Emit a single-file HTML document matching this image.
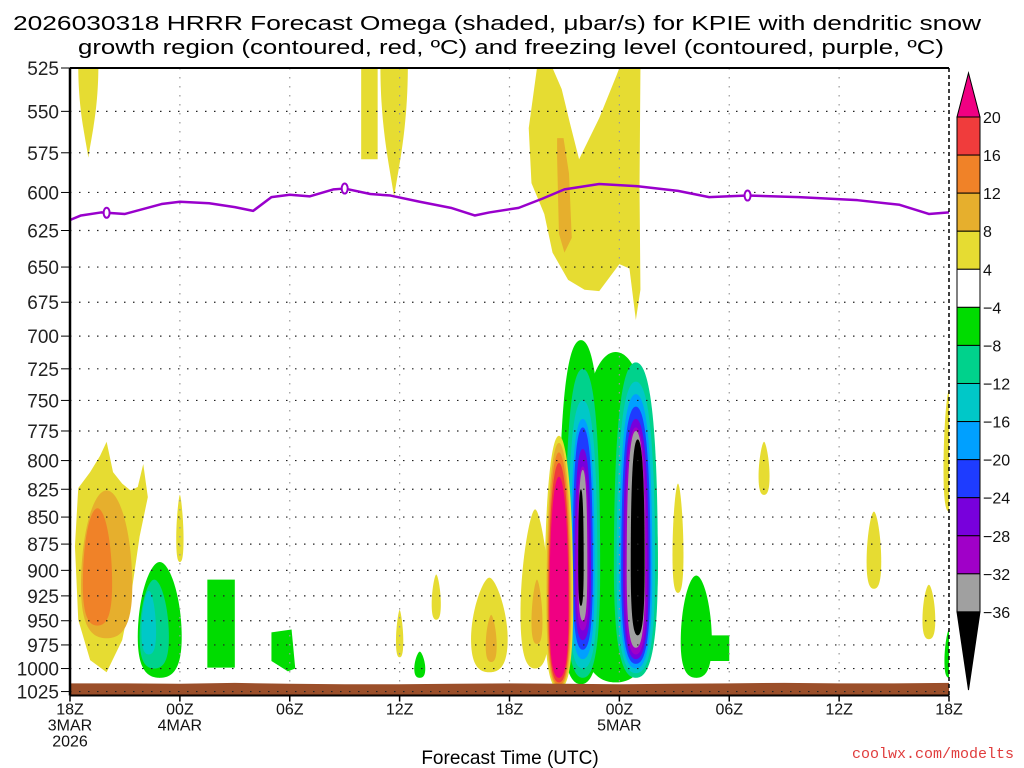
<!DOCTYPE html>
<html><head><meta charset="utf-8"><style>
html,body{margin:0;padding:0;background:#fff;width:1024px;height:768px;overflow:hidden}
svg{display:block;font-family:"Liberation Sans",sans-serif}
</style></head><body>
<svg id="chart" width="1024" height="768" viewBox="0 0 1024 768">
<text x="497" y="30" font-size="20" text-anchor="middle" textLength="968" lengthAdjust="spacingAndGlyphs">2026030318 HRRR Forecast Omega (shaded, μbar/s) for KPIE with dendritic snow</text>
<text x="511" y="54" font-size="20" text-anchor="middle" textLength="866" lengthAdjust="spacingAndGlyphs">growth region (contoured, red, ºC) and freezing level (contoured, purple, ºC)</text>
<g id="shade"></g>
<g id="grid"></g>
<g id="ground"></g>
<g id="frz"></g>
<g id="axes"></g>
<g id="cbar"></g>
<text x="510" y="764" font-size="19" text-anchor="middle">Forecast Time (UTC)</text>
<text x="1014" y="758" font-size="15" fill="#e03c3c" text-anchor="end" font-family="Liberation Mono, monospace">coolwx.com/modelts</text>
</svg>
<script>
// ---- data ----
const pressureTicks=[525,550,575,600,625,650,675,700,725,750,775,800,825,850,875,900,925,950,975,1000,1025];
const timeTicks=[0,6,12,18,24,30,36,42,48];
const timeLabels=[["18Z","3MAR","2026"],["00Z","4MAR"],["06Z"],["12Z"],["18Z"],["00Z","5MAR"],["06Z"],["12Z"],["18Z"]];
const cbarLevels=[20,16,12,8,4,-4,-8,-12,-16,-20,-24,-28,-32,-36];
const cbarColors=["#f03c3c","#f08228","#e6af2d","#e6dc32","#ffffff","#00dc00","#00d28c","#00c8c8","#00a0ff","#1e3cff","#7800dc","#a000c8","#a0a0a0"];
const frzHours=[0,0.6,1.7,3,5,6,7.6,9,10,11,12,13.1,14.4,15,16.4,17.5,19.1,20.8,22.1,22.9,24.5,25.8,27,28.9,31,33.2,34.9,37,39.8,43,45.3,46.9,48];
const frzPres=[618,615,613,614,607.5,606,607,609.5,612,603,601.5,602.5,598,597.5,601,602,606,610,615,613,610,604,598,594.6,596,599,603,602,603,605,608,614,613];
const frzLabelHours=[2,15,37];
const sfcHours=[0,3,6,9,12,15,18,21,24,27,30,33,36,39,42,45,48];
const sfcPres=[1016,1016,1016.5,1015.5,1016.5,1017,1017,1016.5,1016,1016.5,1017,1016.5,1016,1015.5,1016,1016,1015.5];
// blobs: [color, hour, halfWidthHours, pTop, pBottom, inverted, roundness]
const blobs=[
["#e6af2d",2.0,1.4,826,968,0,0.6],["#f08228",1.5,0.8,842,955,0,0.6],
["#00dc00",4.9,1.2,892,1010,0,0.5],["#00d28c",4.6,0.8,909,1000,0,0.5],["#00c8c8",4.3,0.4,920,985,0,0.5],
["#e6dc32",6.0,0.2,830,892,0,0.2],["#e6dc32",18.0,0.2,939,988,0,0.2],["#00dc00",19.1,0.3,982,1010,0,0.3],
["#e6dc32",20.0,0.25,904,949,0,0.3],["#e6dc32",22.9,1.0,907,1004,0,0.3],["#e6af2d",23.0,0.3,944,993,0,0.3],
["#e6dc32",25.4,0.8,843,1000,0,0.3],["#e6af2d",25.5,0.3,909,974,0,0.3],
["#00dc00",29.8,2.3,712,1015,0,0.8],
["#00dc00",27.9,1.2,703,1017,0,0.9],["#00d28c",28.0,0.95,725,1010,0,0.9],["#00c8c8",28.0,0.8,750,1000,0,0.9],["#00a0ff",28.0,0.65,765,990,0,0.9],["#1e3cff",28.0,0.55,772,980,0,0.9],["#7800dc",28.0,0.45,790,970,0,0.9],["#a000c8",28.0,0.35,805,960,0,0.9],["#a0a0a0",28.0,0.25,808,950,0,0.9],["#000000",27.9,0.15,825,935,0,0.9],
["#e6dc32",26.7,0.78,779,1022,0,0.7],["#e6af2d",26.7,0.68,785,1020,0,0.7],["#f08228",26.7,0.62,793,1018,0,0.7],["#f03c3c",26.7,0.57,802,1015,0,0.7],["#f00082",26.7,0.52,814,1010,0,0.7],
["#00d28c",30.9,1.2,720,1010,0,0.9],["#00c8c8",30.9,1.05,735,1005,0,0.9],["#00a0ff",30.9,0.9,745,1000,0,0.9],["#1e3cff",30.9,0.8,755,995,0,0.9],["#7800dc",30.9,0.7,765,990,0,0.9],["#a000c8",30.9,0.6,772,985,0,0.9],["#a0a0a0",30.9,0.5,775,978,0,0.9],["#000000",31.0,0.38,782,965,0,0.9],
["#00dc00",34.2,0.85,905,1010,0,0.5],["#e6dc32",33.2,0.3,820,922,0,0.4],["#e6dc32",37.9,0.3,784,830,0,0.3],
["#e6dc32",43.9,0.4,845,918,0,0.4],["#e6dc32",46.9,0.35,914,969,0,0.4],["#e6dc32",48.0,0.3,742,845,0,0.4],["#00dc00",48.0,0.25,959,1010,0,0.3],
["#e6dc32",1.0,0.55,525,578,1,0],["#e6dc32",17.7,0.75,525,603,1,0]
];
// polygons: [color, [[hour,p],...]]
const polys=[
["#e6dc32",[[2.0,784],[2.35,810],[2.85,820],[3.3,826],[3.7,823],[4.0,803],[4.25,832],[3.8,868],[3.3,929],[2.85,970],[2.0,1004],[1.1,991],[0.45,949],[0.27,877],[0.45,824],[1.1,810],[1.64,796]]],
["#00dc00",[[7.5,909],[9.0,909],[9.0,999],[7.5,999]]],
["#00dc00",[[11.0,962],[12.1,959],[12.3,1000],[11.9,1003],[11.0,992]]],
["#00dc00",[[34.6,965],[36.0,965],[36.0,992],[34.6,992]]],
["#e6dc32",[[15.9,525],[16.8,525],[16.8,579],[15.9,579]]],
["#e6dc32",[[25.5,525],[26.35,525],[26.85,537],[27.3,557],[27.8,579],[28.9,554],[29.85,529],[30.0,525],[31.15,525],[31.1,597],[31.15,666],[30.9,688],[30.55,651],[30.0,648],[28.9,667],[28.1,666],[27.2,659],[26.35,640],[25.9,614],[25.2,594],[25.05,560]]],
["#e6af2d",[[26.6,566],[26.95,566],[27.25,588],[27.4,630],[27.0,640],[26.7,627],[26.6,578]]]
];
// ---- scales ----
const X0=70,X1=949,Y0=68,K=932;
const x=h=>X0+(X1-X0)*h/48;
const y=p=>Y0+K*Math.log(p/525);
const NS="http://www.w3.org/2000/svg";
function mk(tag,attrs,parent){const e=document.createElementNS(NS,tag);for(const k in attrs)e.setAttribute(k,attrs[k]);parent.appendChild(e);return e;}
const shade=document.getElementById('shade');
const defs=mk('defs',{},document.getElementById('chart'));
const cp=mk('clipPath',{id:'plotclip'},defs);mk('rect',{x:X0,y:Y0,width:X1-X0,height:y(1025)+4-Y0},cp);
shade.setAttribute('clip-path','url(#plotclip)');
function tear(b){const [c,h,w,pt,pb,inv,rd]=b;const cx=x(h),rx=w*(X1-X0)/48;let t=y(pt),bt=y(pb);
 let d;const H=bt-t;
 if(!inv){const a=0.15+0.6*rd;
  d=`M${cx},${t} C${cx+rx*a},${t} ${cx+rx},${t+H*(0.4-0.2*rd)} ${cx+rx},${t+H*0.65} C${cx+rx},${t+H*0.95} ${cx+rx*0.5},${bt} ${cx},${bt} C${cx-rx*0.5},${bt} ${cx-rx},${t+H*0.95} ${cx-rx},${t+H*0.65} C${cx-rx},${t+H*(0.4-0.2*rd)} ${cx-rx*a},${t} ${cx},${t} Z`;}
 else{t=t-3;d=`M${cx-rx},${t} L${cx+rx},${t} C${cx+rx},${t+H*0.5} ${cx+rx*0.3},${t+H*0.8} ${cx},${bt} C${cx-rx*0.3},${t+H*0.8} ${cx-rx},${t+H*0.5} ${cx-rx},${t} Z`;}
 return {c,d};}
function drawPoly(pg){const pts=pg[1].map(q=>x(q[0])+','+y(q[1])).join(' ');
 const el=mk('polygon',{points:pts,fill:pg[0]},shade);
 
 }
drawPoly(polys[0]);
blobs.forEach(b=>{const r=tear(b);const el=mk('path',{d:r.d,fill:r.c},shade);
 
 });
polys.slice(1).forEach(drawPoly);
// grid
const grid=document.getElementById('grid');
pressureTicks.forEach(p=>{const el=mk('line',{x1:X0,x2:X1,y1:y(p),y2:y(p),stroke:'#222','stroke-width':1.2,'stroke-dasharray':'1.5 7.5'},grid);
 
 });
timeTicks.slice(1,-1).forEach(h=>{const el=mk('line',{x1:x(h),x2:x(h),y1:Y0,y2:y(1025),stroke:'#999','stroke-width':1.2,'stroke-dasharray':'1.5 7.5'},grid);
 
 });
// ground
const g=document.getElementById('ground');
let gd=`M${x(0)},${y(1025)+5} `;sfcHours.forEach((h,i)=>{gd+=`L${x(h)},${y(sfcPres[i])} `;});gd+=`L${x(48)},${y(1025)+5} Z`;
const gp=mk('path',{d:gd,fill:'#9b4f2a'},g);


const gl=mk('line',{x1:X0,x2:X1,y1:y(1025),y2:y(1025),stroke:'#222','stroke-width':1.2,'stroke-dasharray':'1.5 7.5'},g);


// freezing line
const frz=document.getElementById('frz');
const fl=mk('polyline',{points:frzHours.map((h,i)=>x(h)+','+y(frzPres[i])).join(' '),fill:'none',stroke:'#9900cc','stroke-width':2.5,'stroke-linejoin':'round'},frz);


function interpP(h){for(let i=0;i<frzHours.length-1;i++){if(h>=frzHours[i]&&h<=frzHours[i+1]){const t=(h-frzHours[i])/(frzHours[i+1]-frzHours[i]);return frzPres[i]+t*(frzPres[i+1]-frzPres[i]);}}return frzPres[0];}
frzLabelHours.forEach(h=>{const cx=x(h),cy=y(interpP(h));
 const e=mk('ellipse',{cx:cx,cy:cy,rx:3,ry:5,fill:'#fff',stroke:'#9900cc','stroke-width':2},frz);
 
 });
// axes
const ax=document.getElementById('axes');
const yb=y(1025)+4;
mk('line',{x1:X0,x2:X1,y1:Y0,y2:Y0,stroke:'#000','stroke-width':2},ax);
mk('line',{x1:X0,x2:X1,y1:yb,y2:yb,stroke:'#000','stroke-width':2},ax);
mk('line',{x1:X0,x2:X0,y1:Y0,y2:yb,stroke:'#000','stroke-width':2.5},ax);
mk('line',{x1:X1,x2:X1,y1:Y0,y2:yb,stroke:'#000','stroke-width':1.5,'stroke-dasharray':'4 3'},ax);
pressureTicks.forEach(p=>{const t=mk('text',{x:59,y:y(p)+7,'font-size':19,'text-anchor':'end',fill:'#222'},ax);t.textContent=p;
 
 
 mk('line',{x1:61,x2:X0,y1:y(p),y2:y(p),stroke:'#000','stroke-width':1},ax);});
timeTicks.forEach((h,i)=>{mk('line',{x1:x(h),x2:x(h),y1:yb,y2:yb+6,stroke:'#000','stroke-width':1.5},ax);
 timeLabels[i].forEach((s,j)=>{const t=mk('text',{x:x(h),y:yb+19+j*16,'font-size':16,'text-anchor':'middle',fill:'#111'},ax);t.textContent=s;
  
  });});
// colorbar
const cb=document.getElementById('cbar');
const cx0=957,cw=23,cTop=117,cStep=38.07;
const tri1=mk('polygon',{points:`${cx0},${cTop} ${cx0+cw},${cTop} ${cx0+cw/2},73`,fill:'#f00082',stroke:'#000','stroke-width':1},cb);


cbarColors.forEach((c,i)=>{const r=mk('rect',{x:cx0,y:cTop+i*cStep,width:cw,height:cStep,fill:c,stroke:'#000','stroke-width':1},cb);
 
 });
const bEnd=cTop+cbarColors.length*cStep;
const tri2=mk('polygon',{points:`${cx0},${bEnd} ${cx0+cw},${bEnd} ${cx0+cw/2},690`,fill:'#000',stroke:'#000','stroke-width':1},cb);


cbarLevels.forEach((v,i)=>{const t=mk('text',{x:983,y:cTop+i*cStep+6,'font-size':16,fill:'#111'},cb);t.textContent=v<0?'\u2212'+(-v):String(v);
 
 });
</script>
</body></html>
